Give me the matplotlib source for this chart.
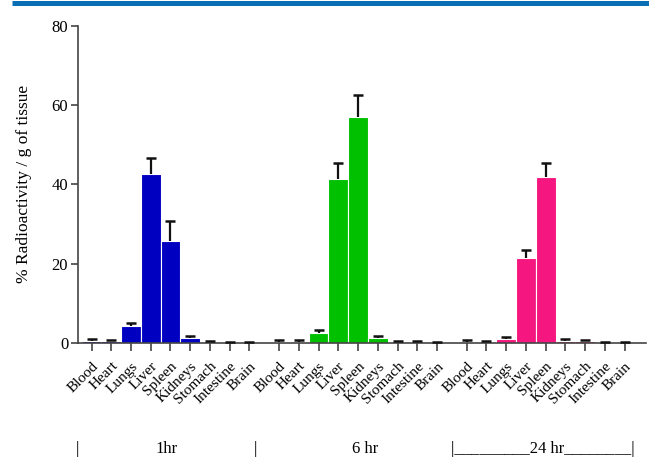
import numpy as np
import matplotlib
matplotlib.use("Agg")
import matplotlib.pyplot as plt
from matplotlib.lines import Line2D

plt.rcParams['font.family'] = ['Liberation Serif', 'DejaVu Serif']

tissues = ["Blood", "Heart", "Lungs", "Liver", "Spleen", "Kidneys",
           "Stomach", "Intestine", "Brain"]
time_points = ["1hr", "6 hr", "24 hr"]

vals_1hr = [0.4, 0.4, 4.1, 42.5, 25.8, 1.2, 0.2, 0.1, 0.05]
err_1hr = [0.45, 0.4, 1.0, 4.1, 4.9, 0.4, 0.3, 0.2, 0.1]
vals_6hr = [0.2, 0.2, 2.45, 41.4, 57.0, 1.2, 0.2, 0.2, 0.05]
err_6hr = [0.4, 0.4, 0.85, 4.1, 5.6, 0.5, 0.3, 0.3, 0.05]
vals_24hr = [0.3, 0.2, 0.95, 21.4, 41.9, 0.5, 0.4, 0.1, 0.05]
err_24hr = [0.3, 0.3, 0.4, 1.9, 3.4, 0.4, 0.3, 0.2, 0.05]

colors = ["#0000C0", "#00C000", "#F5177F"]
group_offsets = [0.0, 9.5, 19.0]

fig = plt.figure(figsize=(6.49, 4.58), dpi=100)
ax = fig.add_axes([0.120, 0.2517, 0.876, 0.6915])

all_pos, all_labels = [], []
for vals, errs, col, off in zip([vals_1hr, vals_6hr, vals_24hr],
                                [err_1hr, err_6hr, err_24hr],
                                colors, group_offsets):
    x = off + np.arange(len(tissues))
    v = np.asarray(vals)
    e = np.asarray(errs)
    ax.bar(x, v, width=1.0, color=col, edgecolor="white", linewidth=0.8,
           zorder=2)
    # upper-only error bars: stem plus a single cap at the top
    ax.vlines(x, v, v + e, colors="#111111", linewidth=1.6, zorder=3)
    ax.plot(x, v + e, linestyle="none", marker="_", markersize=7.5,
            markeredgewidth=1.8, color="#111111", zorder=3)
    all_pos.extend(x)
    all_labels.extend(tissues)

ax.set_xlim(-0.69, 28.1)
ax.set_ylim(0, 80)
ax.set_yticks([0, 20, 40, 60, 80])
ax.set_xticks(all_pos)
ax.set_xticklabels(all_labels, rotation=45, ha="right", rotation_mode="anchor",
                   fontsize=11)
ax.tick_params(axis="y", labelsize=12, length=5, width=1.2, color="#444444",
               pad=2)
ax.tick_params(axis="x", length=6, width=1.2, color="#444444", pad=6)

for side in ["top", "right"]:
    ax.spines[side].set_visible(False)
for side in ["left", "bottom"]:
    ax.spines[side].set_color("#444444")
    ax.spines[side].set_linewidth(1.2)

ax.set_ylabel("% Radioactivity / g of tissue", fontsize=12.5, labelpad=14)

# Time-point row under the tissue names
row_y = 1 - 449 / 458
fig.text(77 / 649, row_y, "|", ha="center", va="center", fontsize=12)
fig.text(167 / 649, row_y, time_points[0], ha="center", va="center", fontsize=12)
fig.text(255 / 649, row_y, "|", ha="center", va="center", fontsize=12)
fig.text(365 / 649, row_y, time_points[1], ha="center", va="center", fontsize=12)
fig.text(543 / 649, row_y, "|_________" + time_points[2] + "________|",
         ha="center", va="center", fontsize=12)

# Blue rule along the top edge
fig.add_artist(Line2D([12 / 649, 1.0], [1 - 2.5 / 458, 1 - 2.5 / 458],
                      transform=fig.transFigure, color="#0A6EB4",
                      linewidth=3.6, solid_capstyle="butt"))

fig.savefig("out.png", dpi=100)
